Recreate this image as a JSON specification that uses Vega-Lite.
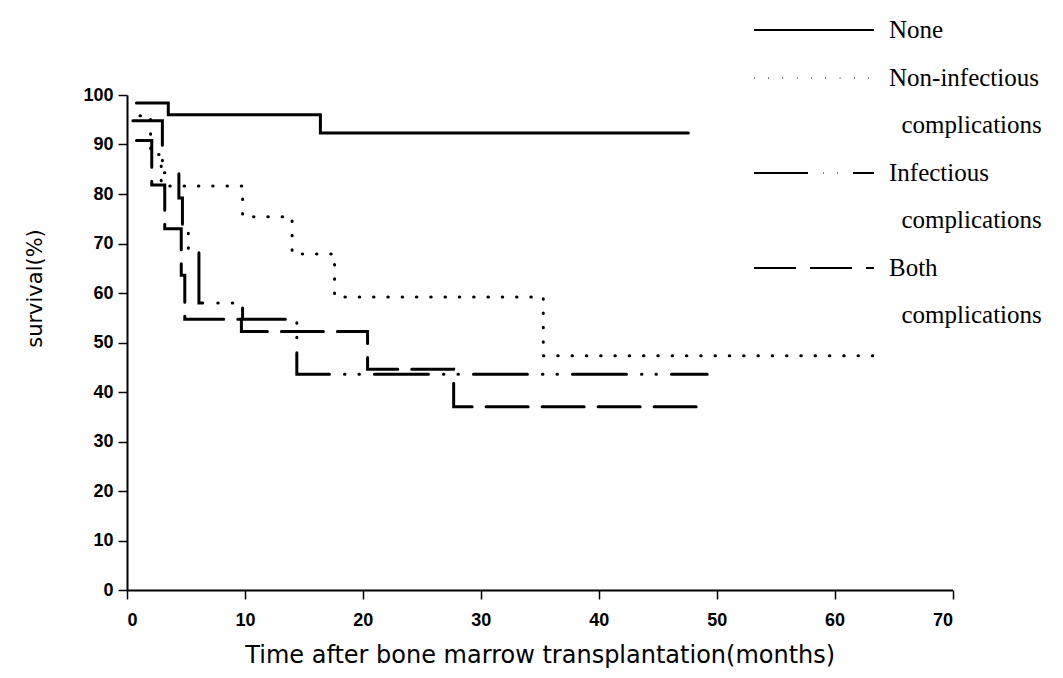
{
  "$schema": "https://vega.github.io/schema/vega-lite/v6.json",
  "autosize": {"type": "none"},
  "padding": {"left": 127, "top": 95, "right": 110.5, "bottom": 88},
  "width": 825.5,
  "height": 495,
  "background": "white",
  "config": {"view": {"stroke": null}},
  "data": {
    "values": [
      {"group": "None", "t": 0.8, "s": 98.4},
      {"group": "None", "t": 3.5, "s": 96.0},
      {"group": "None", "t": 16.4, "s": 92.3},
      {"group": "None", "t": 47.6, "s": 92.3},
      {"group": "Non-infectious complications", "t": 1.1, "s": 95.8},
      {"group": "Non-infectious complications", "t": 2.0, "s": 88.0},
      {"group": "Non-infectious complications", "t": 2.9, "s": 81.6},
      {"group": "Non-infectious complications", "t": 9.8, "s": 75.4},
      {"group": "Non-infectious complications", "t": 14.0, "s": 67.9},
      {"group": "Non-infectious complications", "t": 17.6, "s": 59.2},
      {"group": "Non-infectious complications", "t": 35.3, "s": 47.3},
      {"group": "Non-infectious complications", "t": 64.3, "s": 47.3},
      {"group": "Infectious complications", "t": 0.5, "s": 94.8},
      {"group": "Infectious complications", "t": 3.0, "s": 84.3},
      {"group": "Infectious complications", "t": 4.4, "s": 79.2},
      {"group": "Infectious complications", "t": 4.7, "s": 73.7},
      {"group": "Infectious complications", "t": 5.2, "s": 68.5},
      {"group": "Infectious complications", "t": 6.1, "s": 58.0},
      {"group": "Infectious complications", "t": 9.8, "s": 54.7},
      {"group": "Infectious complications", "t": 14.4, "s": 43.6},
      {"group": "Infectious complications", "t": 49.2, "s": 43.6},
      {"group": "Both complications", "t": 0.8, "s": 90.8},
      {"group": "Both complications", "t": 2.1, "s": 81.8},
      {"group": "Both complications", "t": 3.2, "s": 73.0},
      {"group": "Both complications", "t": 4.6, "s": 63.6},
      {"group": "Both complications", "t": 4.9, "s": 54.7},
      {"group": "Both complications", "t": 9.7, "s": 52.2},
      {"group": "Both complications", "t": 20.4, "s": 44.6},
      {"group": "Both complications", "t": 27.7, "s": 37.0},
      {"group": "Both complications", "t": 48.6, "s": 37.0}
    ]
  },
  "mark": {"type": "line", "interpolate": "step-after", "color": "black", "strokeWidth": 3, "strokeCap": "round", "clip": false},
  "encoding": {
    "x": {
      "field": "t", "type": "quantitative",
      "scale": {"domain": [0, 70], "nice": false, "zero": false},
      "axis": {
        "values": [0, 10, 20, 30, 40, 50, 60, 70],
        "grid": false, "domainColor": "black", "domainWidth": 2, "tickColor": "black", "tickWidth": 1.5, "tickSize": 9,
        "labelFont": "Liberation Sans", "labelFontWeight": "bold", "labelFontSize": 18, "labelColor": "black", "labelPadding": 12,
        "title": "Time after bone marrow transplantation(months)",
        "titleFont": "DejaVu Sans", "titleFontSize": 24, "titleFontWeight": "normal", "titleColor": "black", "titlePadding": 14
      }
    },
    "y": {
      "field": "s", "type": "quantitative",
      "scale": {"domain": [0, 100], "nice": false},
      "axis": {
        "values": [0, 10, 20, 30, 40, 50, 60, 70, 80, 90, 100],
        "grid": false, "domainColor": "black", "domainWidth": 2, "tickColor": "black", "tickWidth": 1.5, "tickSize": 9,
        "labelFont": "Liberation Sans", "labelFontWeight": "bold", "labelFontSize": 18, "labelColor": "black", "labelPadding": 5,
        "title": "survival(%)",
        "titleFont": "DejaVu Sans", "titleFontSize": 21, "titleFontWeight": "normal", "titleColor": "black",
        "titleX": -82, "titleY": 193
      }
    },
    "strokeDash": {
      "field": "group", "type": "nominal",
      "scale": {
        "domain": ["None", "Non-infectious complications", "Infectious complications", "Both complications"],
        "range": [[1, 0], [0.5, 13.8], [54, 15, 0.5, 14, 0.5, 15], [42, 14]]
      },
      "legend": {
        "orient": "none", "legendX": 626, "legendY": -75,
        "title": null,
        "symbolType": "stroke", "symbolSize": 14400, "symbolStrokeWidth": 2, "symbolStrokeColor": "black",
        "labelFont": "Liberation Serif", "labelFontSize": 25, "labelColor": "black", "labelOffset": 14,
        "labelBaseline": "alphabetic", "labelLimit": 400, "rowPadding": 23,
        "labelExpr": "datum.label == 'None' ? 'None' : [split(datum.label, ' ')[0], '\u200d\u00a0\u00a0' + split(datum.label, ' ')[1]]",
        "encoding": {
          "labels": {"lineHeight": {"value": 47}, "dy": {"value": 8}, "y": {"value": 10}},
          "symbols": {"y": {"value": 10}}
        }
      }
    }
  }
}
